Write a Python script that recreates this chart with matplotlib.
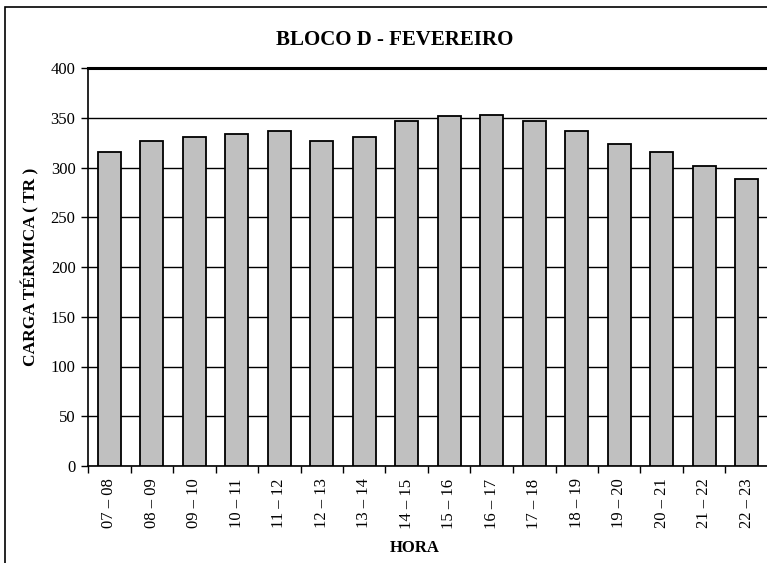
import matplotlib.pyplot as plt
import numpy as np
from matplotlib.patches import Rectangle

# Carga térmica por hora - Bloco D, fevereiro
horas = ["07 – 08", "08 – 09", "09 – 10", "10 – 11", "11 – 12", "12 – 13",
         "13 – 14", "14 – 15", "15 – 16", "16 – 17", "17 – 18", "18 – 19",
         "19 – 20", "20 – 21", "21 – 22", "22 – 23"]
carga = [316, 327, 331, 334, 337, 327, 331, 347, 352, 353, 347, 337,
         324, 316, 302, 288]

plt.rcParams['font.family'] = ['Liberation Serif', 'DejaVu Serif']

W, H = 767, 563
fig = plt.figure(figsize=(W / 100, H / 100), dpi=100)

# outer chart frame (cut at right and bottom like the reference)
fig.patches.append(Rectangle((5 / W, -0.1), 1.2, 1 - 7 / H + 0.1,
                             transform=fig.transFigure, fill=False,
                             edgecolor='black', linewidth=1.2))

left, right, top, bottom = 88, 768, 68, 466
ax = fig.add_axes([left / W, (H - bottom) / H, (right - left) / W, (bottom - top) / H])

x = np.arange(len(horas))
ax.bar(x, carga, width=0.55, color='#c0c0c0', edgecolor='black', linewidth=1.3, zorder=3)

ax.set_xlim(-0.5, len(horas) - 0.5)
ax.set_ylim(0, 400)
ax.set_yticks(np.arange(0, 401, 50))
ax.yaxis.grid(True, color='black', linewidth=1, zorder=0)
ax.set_axisbelow(True)

# ticks between categories, labels centred on bars
ax.set_xticks(np.arange(-0.5, len(horas), 1))
ax.set_xticklabels([])
ax.set_xticks(x, minor=True)
ax.set_xticklabels(horas, minor=True, rotation=90, fontsize=12)
ax.tick_params(axis='x', which='minor', length=0, pad=9)
ax.tick_params(axis='x', which='major', direction='out', length=5, width=1)
ax.tick_params(axis='y', direction='out', length=5, width=1, labelsize=12, pad=4)

for s in ['left', 'bottom']:
    ax.spines[s].set_linewidth(1.2)
ax.spines['top'].set_linewidth(2.2)
ax.spines['right'].set_visible(False)

fig.text(395 / W, 1 - 40 / H, "BLOCO D - FEVEREIRO", ha='center', va='center',
         fontsize=15, fontweight='bold')
fig.text(415 / W, 1 - 548 / H, "HORA", ha='center', va='center',
         fontsize=12, fontweight='bold')
fig.text(30 / W, 1 - 267 / H, "CARGA TÉRMICA ( TR )", ha='center', va='center',
         rotation=90, fontsize=12.5, fontweight='bold')

fig.savefig("out.png", dpi=100)
